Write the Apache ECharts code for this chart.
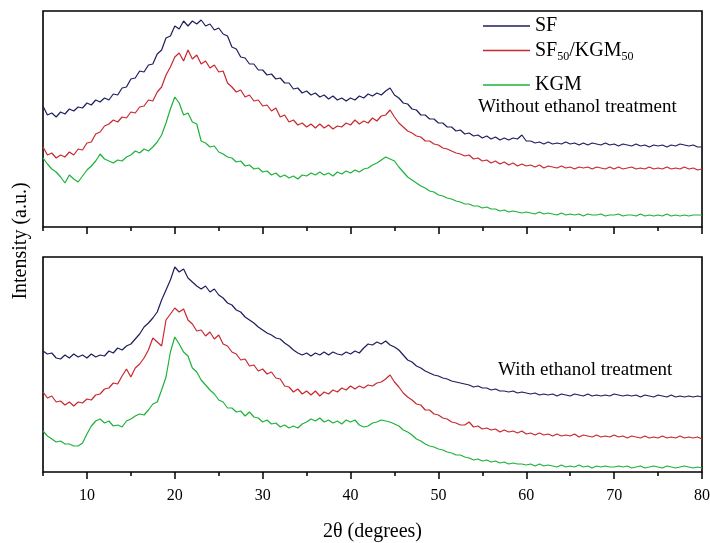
<!DOCTYPE html>
<html><head><meta charset="utf-8">
<script src="https://cdn.jsdelivr.net/npm/echarts@6/dist/echarts.min.js"></script>
<style>html,body{margin:0;padding:0;background:#fff}#c{width:710px;height:543px}</style>
</head><body><div id="c"></div>
<script>
const seriesNames = ['SF', 'SF50/KGM50', 'KGM'];
const seriesColors = ['#1e1e5e', '#c8282d', '#1cb23a'];
const panelNotes = ['Without ethanol treatment', 'With ethanol treatment'];
const xTicks = [10, 20, 30, 40, 50, 60, 70, 80];
const xMinorTicks = [5, 15, 25, 35, 45, 55, 65, 75];
const twoTheta = [];
for (let i = 0; i <= 150; i++) twoTheta.push(5 + i * 0.5);

// Upper panel (without ethanol treatment), arbitrary intensity units
const topSF = [
121,112,114,110,115,113,118,116,120,119,
124,122,127,125,129,127,133,132,139,140,
148,149,156,155,162,163,173,177,189,191,
201,198,206,201,206,203,207,201,203,197,
199,193,191,180,178,170,169,163,163,157,
157,152,153,148,149,144,144,138,139,134,
136,132,134,130,132,128,131,127,129,126,
129,127,131,129,133,131,134,132,136,139,
132,129,124,123,118,117,112,112,108,108,
104,104,100,100,96,97,93,94,91,92,
89,91,88,90,87,89,87,89,88,92,
86,86,84,85,83,85,83,84,83,85,
83,84,82,84,82,84,83,82,84,82,
83,81,83,82,81,83,81,82,80,82,
81,82,80,82,81,83,82,81,82,80,
80];
const topBlend = [
80,72,74,69,72,70,75,72,78,77,
84,85,93,95,101,103,107,105,110,109,
115,114,120,121,127,126,135,140,152,160,
170,174,166,177,168,172,163,166,159,162,
155,156,144,140,135,137,130,132,126,127,
121,122,116,119,110,112,105,107,102,104,
100,103,99,103,99,102,98,101,100,104,
102,107,103,106,104,109,106,111,112,117,
110,104,100,96,94,91,90,86,86,83,
82,79,78,76,74,73,71,72,68,69,
66,67,64,66,63,65,62,64,61,63,
61,62,60,62,59,61,60,59,61,59,
60,58,60,59,60,58,60,59,58,60,
58,60,58,59,60,58,59,58,60,58,
59,58,60,58,59,58,60,58,59,57,
58];
const topKGM = [
69,63,58,55,50,44,52,48,45,51,
57,61,66,73,68,66,64,67,66,70,
72,76,74,78,76,80,85,92,104,118,
130,124,112,114,105,103,86,84,80,81,
75,73,70,69,65,66,61,62,58,59,
55,56,52,54,50,52,49,51,48,52,
51,54,52,55,52,54,51,55,53,56,
54,57,55,58,59,62,64,67,70,68,
66,60,55,50,47,44,41,39,36,35,
32,31,29,28,26,25,23,23,21,21,
19,20,18,18,16,17,15,16,15,14,
15,14,13,15,13,14,13,12,14,12,
13,12,13,11,13,12,12,13,11,12,
12,13,11,12,12,11,13,11,12,11,
12,11,13,11,12,11,12,11,12,12,
12];

// Lower panel (with ethanol treatment)
const botSF = [
121,118,119,114,113,117,114,118,115,117,
114,118,115,117,116,121,119,124,122,126,
128,133,138,145,149,154,160,172,182,192,
205,200,203,194,190,186,183,186,180,183,
177,174,169,167,162,160,155,152,149,145,
142,139,137,134,133,129,126,122,119,117,
119,116,119,117,120,117,120,118,117,120,
118,121,119,124,128,127,130,128,131,127,
125,122,117,112,110,106,104,101,99,97,
96,94,93,91,90,89,88,87,85,86,
84,84,82,83,81,81,80,81,79,80,
79,78,79,77,78,77,78,76,78,77,
76,78,77,76,78,76,77,76,77,76,
78,77,76,77,76,77,75,77,76,75,
77,76,75,77,75,76,75,76,75,76,
75];
const botBlend = [
80,74,76,70,71,67,70,66,70,69,
73,72,77,78,83,84,89,88,96,103,
95,104,108,114,122,134,130,126,152,158,
164,160,163,152,148,141,142,136,140,133,
137,128,126,120,118,112,113,106,107,101,
103,98,100,94,93,86,85,80,83,78,
81,77,81,76,80,78,82,80,84,82,
86,83,86,84,87,86,89,90,93,97,
90,85,79,75,72,68,67,62,62,58,
57,54,53,50,49,47,47,50,45,46,
43,44,42,43,40,42,40,41,39,41,
38,39,37,39,37,38,36,38,36,37,
36,38,35,37,36,35,37,35,36,35,
37,35,36,34,36,35,34,36,34,35,
34,36,34,35,34,36,34,35,34,35,
33];
const botKGM = [
41,36,33,30,31,28,28,26,26,29,
38,46,51,53,49,51,46,47,45,51,
53,56,58,57,62,68,70,82,95,120,
135,128,120,116,104,100,92,87,82,78,
72,70,64,64,60,61,56,60,55,54,
50,52,48,49,45,47,44,46,44,48,
50,53,51,54,50,52,49,51,48,52,
50,52,47,45,46,49,50,52,51,50,
48,46,42,40,37,33,31,28,26,25,
23,22,20,19,17,17,15,14,12,13,
11,12,10,11,9,10,8,9,8,8,
7,8,6,8,6,7,6,5,7,5,
6,5,7,5,6,4,6,5,6,5,
5,6,5,6,4,5,6,4,5,6,
5,4,6,5,4,5,6,5,4,5,
4];

const panels = [[topSF, topBlend, topKGM], [botSF, botBlend, botKGM]];
const FONT = '"Liberation Serif","Times New Roman",serif';

const chart = echarts.init(document.getElementById('c'), null, {renderer: 'canvas'});

const grids = [
  {left: 43, top: 11, width: 659, height: 216},
  {left: 43, top: 257, width: 659, height: 215}
].map(g => Object.assign(g, {show: true, borderColor: '#000', borderWidth: 1.6, backgroundColor: 'transparent', containLabel: false, outerBoundsMode: 'none'}));

const xAxes = [];
[0, 1].forEach(gi => {
  xAxes.push({
    type: 'value', gridIndex: gi, min: 5, max: 80, position: 'bottom',
    axisLine: {show: false, onZero: false},
    axisTick: {show: true, customValues: xTicks, length: 7, lineStyle: {color: '#000', width: 1.5}},
    axisLabel: gi === 1 ? {show: true, customValues: xTicks, fontSize: 16, fontFamily: FONT, color: '#000', margin: 16} : {show: false},
    splitLine: {show: false},
    name: gi === 1 ? '2θ (degrees)' : '',
    nameLocation: 'middle', nameGap: 50,
    nameTextStyle: {fontSize: 20, fontFamily: FONT, color: '#000'}
  });
  xAxes.push({
    type: 'value', gridIndex: gi, min: 5, max: 80, position: 'bottom',
    axisLine: {show: false, onZero: false},
    axisTick: {show: true, customValues: xMinorTicks, length: 4, lineStyle: {color: '#000', width: 1.5}},
    axisLabel: {show: false},
    splitLine: {show: false}
  });
});

const yAxes = [
  {type: 'value', gridIndex: 0, min: 0, max: 216},
  {type: 'value', gridIndex: 1, min: 0, max: 215}
].map(a => Object.assign(a, {axisLine: {show: false}, axisTick: {show: false}, axisLabel: {show: false}, splitLine: {show: false}}));

const series = [];
panels.forEach((arrs, pi) => {
  arrs.forEach((arr, si) => {
    series.push({
      name: seriesNames[si], type: 'line',
      xAxisIndex: pi * 2, yAxisIndex: pi,
      data: twoTheta.map((x, i) => [x, arr[i]]),
      showSymbol: false, symbol: 'none',
      lineStyle: {color: seriesColors[si], width: 1.2},
      itemStyle: {color: seriesColors[si]},
      animation: false
    });
  });
});

const legendTops = [16, 38, 75];
const legends = seriesNames.map((n, i) => ({
  data: [n], left: 483, top: legendTops[i], orient: 'vertical', padding: 0,
  icon: 'rect', itemWidth: 47, itemHeight: 1.5, selectedMode: false,
  formatter: name => name === 'SF50/KGM50' ? '{m|SF}{s|50}{m|/KGM}{s|50}' : '{m|' + name + '}',
  textStyle: {
    color: '#000',
    rich: {
      m: {fontSize: 20, fontFamily: FONT, color: '#000', lineHeight: 22},
      s: {fontSize: 12, fontFamily: FONT, color: '#000', lineHeight: 12, padding: [13, 0, 0, 0]}
    }
  }
}));

chart.setOption({
  animation: false,
  grid: grids,
  xAxis: xAxes,
  yAxis: yAxes,
  legend: legends,
  series: series,
  graphic: [
    {type: 'text', left: 478, top: 98, style: {text: panelNotes[0], font: '19px ' + FONT, fill: '#000'}},
    {type: 'text', left: 498, top: 361, style: {text: panelNotes[1], font: '19px ' + FONT, fill: '#000'}},
    {type: 'text', x: 21, y: 241, rotation: Math.PI / 2,
     style: {text: 'Intensity (a.u.)', font: '20px ' + FONT, fill: '#000', align: 'center', verticalAlign: 'middle'}}
  ]
});
</script></body></html>
